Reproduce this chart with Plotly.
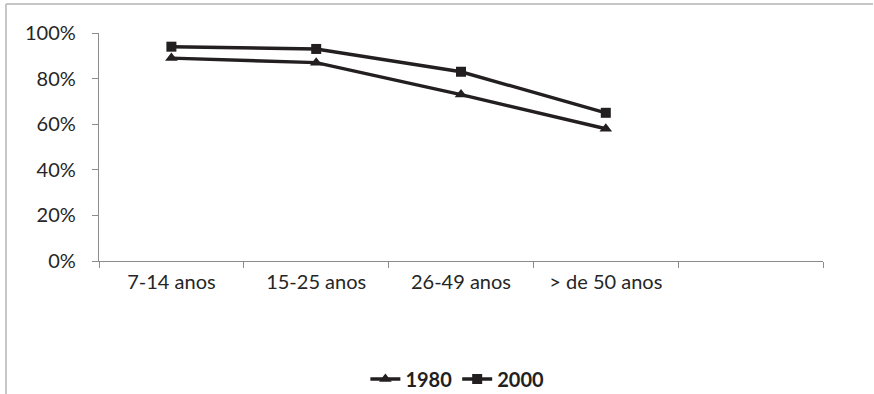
import plotly.graph_objects as go

categories = ["7-14 anos", "15-25 anos", "26-49 anos", "> de 50 anos"]
series_1980 = [0.89, 0.87, 0.73, 0.58]
series_2000 = [0.94, 0.93, 0.83, 0.65]
y_ticks = [0, 0.2, 0.4, 0.6, 0.8, 1.0]
y_tick_labels = ["0%", "20%", "40%", "60%", "80%", "100%"]

x_pos = list(range(len(categories)))

fig = go.Figure()
fig.add_trace(go.Scatter(
    x=x_pos, y=series_1980, name="1980", mode="lines+markers",
    line=dict(color="#231f20", width=3.4),
    marker=dict(symbol="triangle-up", size=11, color="#231f20"),
))
fig.add_trace(go.Scatter(
    x=x_pos, y=series_2000, name="2000", mode="lines+markers",
    line=dict(color="#231f20", width=3.4),
    marker=dict(symbol="square", size=10, color="#231f20"),
))

axis_grey = "#8c8c8c"
fig.update_layout(
    width=874, height=394,
    margin=dict(l=99, r=51, t=33, b=133, autoexpand=False),
    paper_bgcolor="white", plot_bgcolor="white",
    font=dict(family="Lato", size=20, color="#262626"),
    showlegend=True,
    legend=dict(
        orientation="h", x=0.495, xanchor="center",
        yref="container", y=0.038, yanchor="middle",
        font=dict(size=20, color="#231f20", weight="bold"),
        itemwidth=30, tracegroupgap=0,
    ),
    xaxis=dict(
        range=[-0.5, 4.5], tickvals=x_pos, ticktext=categories,
        ticks="", showline=True, linecolor=axis_grey, linewidth=1.3,
        showgrid=False, zeroline=False, fixedrange=True, automargin=False,
        ticklabelstandoff=3,
        minor=dict(tickmode="linear", tick0=-0.5, dtick=1, ticks="outside",
                   ticklen=6, tickcolor=axis_grey, tickwidth=1.3, showgrid=False),
    ),
    yaxis=dict(
        range=[0, 1], tickvals=y_ticks, ticktext=y_tick_labels,
        ticks="outside", ticklen=6, tickcolor=axis_grey, tickwidth=1.3,
        showline=True, linecolor=axis_grey, linewidth=1.3,
        showgrid=False, zeroline=False, fixedrange=True, automargin=False,
        ticklabelstandoff=12,
    ),
)

# outer chart frame (left and top edges visible)
frame = dict(type="line", xref="paper", yref="paper",
             line=dict(color="#b4b4b4", width=1.5))
fig.add_shape(**frame, x0=-0.1285, x1=-0.1285, y0=-1.2, y1=1.127)
fig.add_shape(**frame, x0=-0.1285, x1=1.069, y0=1.127, y1=1.127)

fig.write_html("out.html")
